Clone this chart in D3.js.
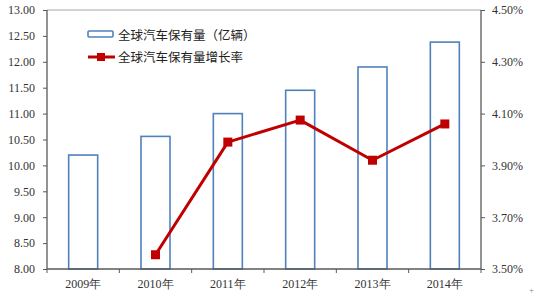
<!DOCTYPE html>
<html>
<head>
<meta charset="utf-8">
<script src="https://cdn.jsdelivr.net/npm/d3@7"></script>
<style>
  body { margin: 0; background: #fff; }
  svg { display: block; }
  .tick text { font-family: "Liberation Serif", "Times New Roman", serif; font-size: 12px; fill: #333; }
</style>
</head>
<body>
<svg id="chart" width="536" height="297"></svg>
<script>
// data
var years = ["2009年", "2010年", "2011年", "2012年", "2013年", "2014年"];
var stock = [10.2, 10.56, 11.0, 11.45, 11.9, 12.38];           // 全球汽车保有量（亿辆）
var growth = [null, 3.555, 3.99, 4.075, 3.92, 4.06];           // 增长率 (%)
var leftTicks = [8, 8.5, 9, 9.5, 10, 10.5, 11, 11.5, 12, 12.5, 13];
var rightTicks = [3.5, 3.7, 3.9, 4.1, 4.3, 4.5];
var legendNames = ["全球汽车保有量（亿辆）", "全球汽车保有量增长率"];

var svg = d3.select("#chart");
var plotLeft = 47, plotRight = 481, plotTop = 10, plotBottom = 269;
var axisColor = "#595959";

var x = d3.scaleBand().domain(years).range([plotLeft, plotRight]);
var y = d3.scaleLinear().domain([8, 13]).range([plotBottom, plotTop]);
var y2 = d3.scaleLinear().domain([3.5, 4.5]).range([plotBottom, plotTop]);

// top border
svg.append("line")
    .attr("x1", plotLeft).attr("x2", plotRight).attr("y1", plotTop).attr("y2", plotTop)
    .attr("stroke", "#a6a6a6").attr("stroke-width", 1);

// bars
svg.append("g").selectAll("rect")
    .data(years)
    .enter().append("rect")
    .attr("x", function(d) { return x(d) + x.bandwidth() / 2 - 14.5; })
    .attr("width", 29)
    .attr("y", function(d, i) { return y(stock[i]); })
    .attr("height", function(d, i) { return plotBottom - y(stock[i]); })
    .attr("fill", "#fff")
    .attr("stroke", "#4f81bd")
    .attr("stroke-width", 1.6);

// axes
var gl = svg.append("g").attr("transform", "translate(" + plotLeft + ",0)")
    .call(d3.axisLeft(y).tickValues(leftTicks).tickFormat(d3.format(".2f")).tickSize(4).tickPadding(8));
var gr = svg.append("g").attr("transform", "translate(" + plotRight + ",0)")
    .call(d3.axisRight(y2).tickValues(rightTicks).tickFormat(function(d) { return d.toFixed(2) + "%"; }).tickSize(4).tickPadding(7));
var gx = svg.append("g").attr("transform", "translate(0," + plotBottom + ")")
    .call(d3.axisBottom(x).tickSize(0).tickPadding(10));

// category boundary ticks on the x axis
gx.selectAll(".bound")
    .data(d3.range(years.length + 1))
    .enter().append("line")
    .attr("class", "bound")
    .attr("x1", function(i) { return plotLeft + i * x.step(); })
    .attr("x2", function(i) { return plotLeft + i * x.step(); })
    .attr("y1", 0).attr("y2", 4)
    .attr("stroke", axisColor);

[gl, gr, gx].forEach(function(g) {
    g.selectAll(".domain").attr("stroke", axisColor).attr("stroke-width", 1.3);
    g.selectAll(".tick line").attr("stroke", axisColor);
});
gx.select(".domain").attr("d", "M" + plotLeft + ",0H" + plotRight);
gl.select(".domain").attr("d", "M0," + plotTop + "V" + plotBottom);
gr.select(".domain").attr("d", "M0," + plotTop + "V" + plotBottom);

// growth line
var pts = years.map(function(d, i) { return {year: d, v: growth[i]}; })
    .filter(function(d) { return d.v != null; });

var line = d3.line()
    .x(function(d) { return x(d.year) + x.bandwidth() / 2; })
    .y(function(d) { return y2(d.v); });

svg.append("path")
    .datum(pts)
    .attr("d", line)
    .attr("fill", "none")
    .attr("stroke", "#c00000")
    .attr("stroke-width", 3)
    .attr("stroke-linejoin", "round");

svg.append("g").selectAll("rect")
    .data(pts)
    .enter().append("rect")
    .attr("x", function(d) { return x(d.year) + x.bandwidth() / 2 - 4.5; })
    .attr("y", function(d) { return y2(d.v) - 4.5; })
    .attr("width", 9).attr("height", 9)
    .attr("fill", "#c00000");

// legend
var lg = svg.append("g").attr("font-family", "'Noto Sans CJK SC', sans-serif").attr("font-size", "12.5px").attr("fill", "#222");
lg.append("rect")
    .attr("x", 88).attr("y", 31).attr("width", 25).attr("height", 6).attr("rx", 1)
    .attr("fill", "#fff").attr("stroke", "#4f81bd").attr("stroke-width", 1.6);
lg.append("text").attr("x", 118).attr("y", 39.5).text(legendNames[0]);
lg.append("line")
    .attr("x1", 88).attr("x2", 115).attr("y1", 57).attr("y2", 57)
    .attr("stroke", "#c00000").attr("stroke-width", 3);
lg.append("rect").attr("x", 97).attr("y", 53).attr("width", 8).attr("height", 8).attr("fill", "#c00000");
lg.append("text").attr("x", 118).attr("y", 61.5).text(legendNames[1]);

// little corner mark
svg.append("text").attr("x", 529).attr("y", 293).attr("font-size", "9px").attr("fill", "#888").text("+");
</script>
</body>
</html>
